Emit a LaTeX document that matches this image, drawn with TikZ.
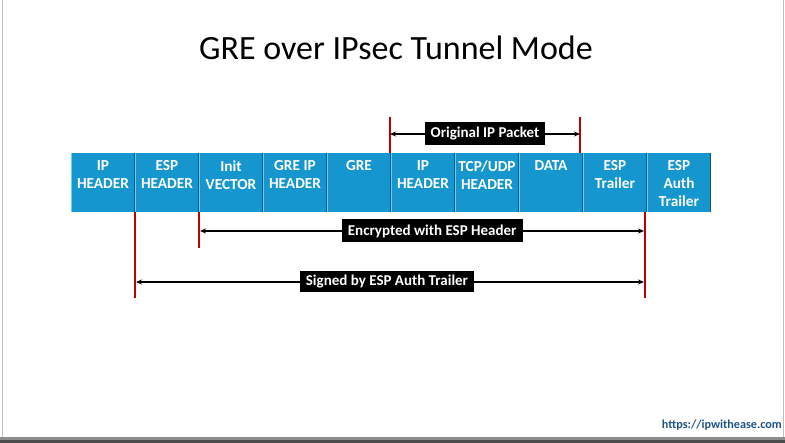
\documentclass[tikz,border=0pt]{standalone}
\usepackage{fontspec}
\setmainfont{Carlito}
\usepackage{tikz}
\usetikzlibrary{arrows.meta}
\definecolor{pktblue}{RGB}{22, 150, 206}
\definecolor{pktlight}{RGB}{95, 212, 242}
\definecolor{pktdark}{RGB}{14, 86, 134}
\definecolor{markred}{RGB}{192, 0, 0}
\definecolor{urlblue}{RGB}{32, 84, 134}

\begin{document}
\begin{tikzpicture}[x=1pt, y=-1pt,
    pktbox/.style={rectangle, fill=pktblue, minimum width=64pt, minimum height=59pt, inner sep=0pt},
    pkttext/.style={anchor=north, align=center, text=white, font=\fontsize{15.3}{17.8}\selectfont\bfseries, inner sep=0pt},
    marker/.style={markred, line width=2.6pt},
    span/.style={black, line width=1.6pt, {Stealth[length=6pt,width=5pt]}-{Stealth[length=6pt,width=5pt]}},
    tagbox/.style={fill=black, text=white, font=\fontsize{15}{17}\selectfont\bfseries, inner xsep=6pt, minimum height=23pt}]
  \useasboundingbox (0,0) rectangle (785,443);
  % page frame
  \fill[white] (0,0) rectangle (785,443);
  \draw[black!25, line width=1pt] (2,0) -- (2,437);
  \draw[black!25, line width=1pt] (783,0) -- (783,437);
  \fill[black!45] (0,437) rectangle (785,443);
  \fill[black!70] (0,440) rectangle (785,443);

  \node[font=\fontsize{34}{40}\selectfont] (title) at (396,48) {GRE over IPsec Tunnel Mode};

  % packet fields
  \foreach \t [count=\i] in {{IP\\HEADER}, {ESP\\HEADER}, {Init\\VECTOR}, {GRE IP\\HEADER}, {GRE},
                             {IP\\HEADER}, {TCP/UDP\\HEADER}, {DATA}, {ESP\\Trailer}, {ESP\\Auth\\Trailer}} {
    \node[pktbox] (b\i) at ({39+64*\i},182.5) {};
    \draw[pktlight, line width=1.4pt] ([xshift=0.7pt]b\i.north west) -- ([xshift=0.7pt]b\i.south west);
    \draw[pktdark, line width=1pt] ([xshift=-0.5pt]b\i.north east) -- ([xshift=-0.5pt]b\i.south east);
    \node[pkttext] (t\i) at ([yshift=-7.5pt]b\i.north) {\t};
  }

  % original IP packet
  \coordinate (ol) at (390,117);
  \coordinate (or) at (580,117);
  \draw[marker] (ol) -- (ol |- b6.north);
  \draw[marker] (or) -- (or |- b8.north);
  \draw[span] ([yshift=-17pt]ol) -- ([yshift=-17pt]or) node[midway, tagbox] (origlbl) {Original IP Packet};

  % encrypted and signed parts
  \coordinate (sl) at (135,298);
  \coordinate (el) at (199,248);
  \coordinate (er) at (645,298);
  \coordinate (ea) at (200,231);
  \coordinate (eb) at (644,231);
  \coordinate (sa) at (136,282);
  \coordinate (sb) at (644,282);
  \draw[marker] (sl |- b2.south) -- (sl);
  \draw[marker] (el |- b3.south) -- (el);
  \draw[marker] (er |- b10.south) -- (er);
  \draw[span] (ea) -- (eb) node[pos=0.523, tagbox] (enclbl) {Encrypted with ESP Header};
  \draw[span] (sa) -- (sb) node[pos=0.494, tagbox, minimum height=21pt] (signlbl) {Signed by ESP Auth Trailer};

  \node[text=urlblue, font=\fontsize{12.2}{14}\selectfont\bfseries, anchor=east, inner sep=0pt] (url) at (782,425) {https://ipwithease.com};
\end{tikzpicture}
\end{document}
